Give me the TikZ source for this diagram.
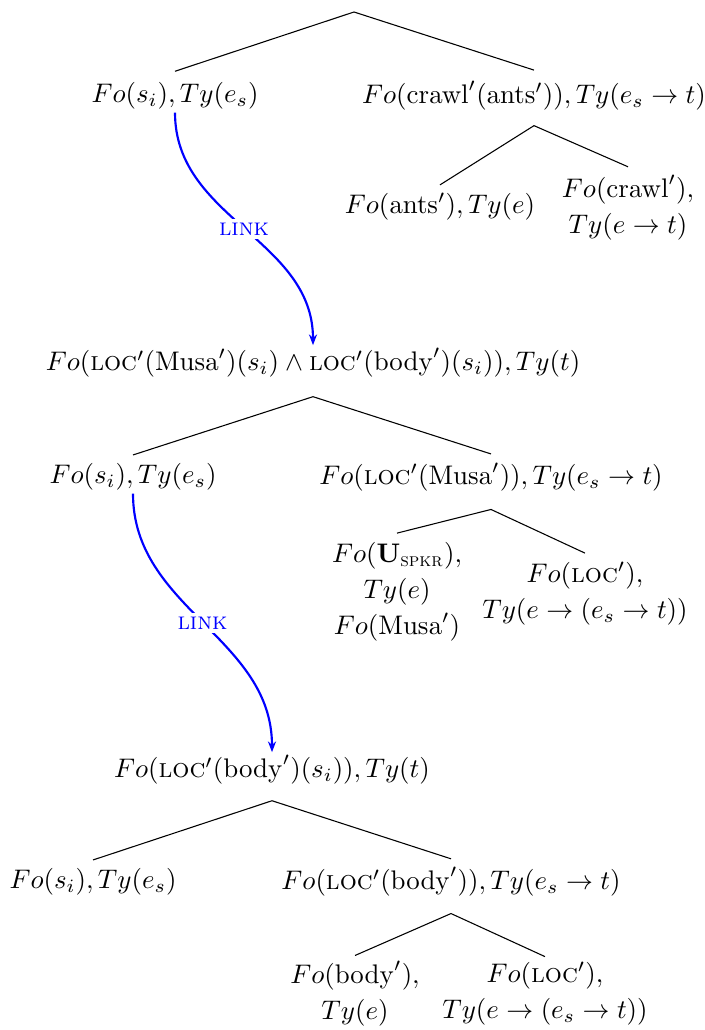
\documentclass[tikz,border=0pt]{standalone}
\usepackage{amsmath}
\usetikzlibrary{arrows.meta}
\begin{document}
\begin{tikzpicture}[x=0.372pt,y=-0.372pt,
  fnode/.style={inner sep=1pt, align=center},
  edge/.style={black, line width=0.4pt},
  linkarr/.style={blue, line width=0.8pt, -{Stealth[length=4pt,width=3pt]}},
  linklab/.style={fill=white, text=blue, inner sep=1.5pt, font=\small}]
\useasboundingbox (0,0) rectangle (704,1030);
% Tree 1
\coordinate (r1) at (354,12);
\node[fnode] (a1) at (175,96) {$Fo(s_i), Ty(e_s)$};
\node[fnode] (b1) at (534,96) {$Fo(\mathrm{crawl}'(\mathrm{ants}')), Ty(e_s\rightarrow t)$};
\node[fnode] (c1) at (440,207) {$Fo(\mathrm{ants}'), Ty(e)$};
\node[fnode] (d1) at (628,208) {$Fo(\mathrm{crawl}'),$\\[1.4pt]$Ty(e\rightarrow t)$};
\draw[edge] (r1) -- ([yshift=3pt]a1.north);
\draw[edge] (r1) -- ([yshift=3pt]b1.north);
\draw[edge] ([yshift=-4.4pt]b1.south) -- ([yshift=2pt]c1.north);
\draw[edge] ([yshift=-4.4pt]b1.south) -- ([yshift=2pt]d1.north);
% Tree 2
\node[fnode] (r2) at (313,363) {$Fo(\textsc{loc}'(\mathrm{Musa}')(s_i)\wedge\textsc{loc}'(\mathrm{body}')(s_i)), Ty(t)$};
\node[fnode] (a2) at (133,477) {$Fo(s_i), Ty(e_s)$};
\node[fnode] (b2) at (491,477) {$Fo(\textsc{loc}'(\mathrm{Musa}')), Ty(e_s\rightarrow t)$};
\node[fnode] (c2) at (397,592) {$Fo(\mathbf{U}_{\text{\textsc{spkr}}}),$\\[1.4pt]$Ty(e)$\\[1.4pt]$Fo(\mathrm{Musa}')$};
\node[fnode] (d2) at (585,594) {$Fo(\textsc{loc}'),$\\[1.4pt]$Ty(e\rightarrow(e_s\rightarrow t))$};
\draw[edge] ([yshift=-5.9pt]r2.south) -- ([yshift=2pt]a2.north);
\draw[edge] ([yshift=-5.9pt]r2.south) -- ([yshift=2pt]b2.north);
\draw[edge] ([yshift=-5.5pt]b2.south) -- ([yshift=2.3pt]c2.north);
\draw[edge] ([yshift=-5.5pt]b2.south) -- ([yshift=2.3pt]d2.north);
% Tree 3
\node[fnode] (r3) at (272,770) {$Fo(\textsc{loc}'(\mathrm{body}')(s_i)), Ty(t)$};
\node[fnode] (a3) at (93,882) {$Fo(s_i), Ty(e_s)$};
\node[fnode] (b3) at (451,882) {$Fo(\textsc{loc}'(\mathrm{body}')), Ty(e_s\rightarrow t)$};
\node[fnode] (c3) at (355,994) {$Fo(\mathrm{body}'),$\\[1.4pt]$Ty(e)$};
\node[fnode] (d3) at (545,994) {$Fo(\textsc{loc}'),$\\[1.4pt]$Ty(e\rightarrow(e_s\rightarrow t))$};
\draw[edge] ([yshift=-4.8pt]r3.south) -- ([yshift=2pt]a3.north);
\draw[edge] ([yshift=-4.8pt]r3.south) -- ([yshift=2pt]b3.north);
\draw[edge] ([yshift=-5.1pt]b3.south) -- ([yshift=1pt]c3.north);
\draw[edge] ([yshift=-5.1pt]b3.south) -- ([yshift=1pt]d3.north);
% Links
\draw[linkarr] (a1.south) to[out=-90,in=90] node[linklab]{\textsc{link}} (r2.north);
\draw[linkarr] (a2.south) to[out=-90,in=90] node[linklab]{\textsc{link}} (r3.north);
\end{tikzpicture}
\end{document}
